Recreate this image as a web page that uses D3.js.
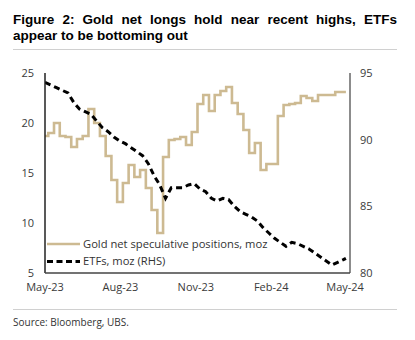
<!DOCTYPE html>
<html><head><meta charset="utf-8">
<script src="https://cdnjs.cloudflare.com/ajax/libs/d3/7.8.5/d3.min.js"></script>
<style>
body{margin:0;background:#fff;}
svg{display:block;font-family:"Open Sans","Noto Sans",sans-serif;}
</style></head>
<body>
<svg id="chart" width="415" height="340"></svg>
<script>
// ---- data ----
const titleLines = ["Figure 2: Gold net longs hold near recent highs, ETFs", "appear to be bottoming out"];
const sourceText = "Source: Bloomberg, UBS.";
const xTickDates = ["2023-05-01","2023-08-01","2023-11-01","2024-02-01","2024-05-01"];
const xTickLabels = ["May-23","Aug-23","Nov-23","Feb-24","May-24"];
const leftTicks = [5,10,15,20,25];
const rightTicks = [80,85,90,95];
const seriesNames = ["Gold net speculative positions, moz","ETFs, moz (RHS)"];

// weekly COT readings (Fridays from 2023-04-28), moz
const goldStart = "2023-04-28";
const goldEnd = "2024-05-02";
const goldValues = [18.7,19.0,20.0,18.7,18.6,17.6,18.4,18.7,21.4,20.0,
  18.7,16.7,14.3,12.1,14.0,15.8,14.6,15.3,13.5,11.3,
  9.0,16.6,18.3,18.4,18.6,17.8,19.1,21.9,22.8,21.2,
  22.8,23.2,23.6,22.0,20.9,19.3,17.0,18.0,15.3,15.9,
  15.9,20.7,21.8,21.9,22.0,22.7,22.5,22.2,22.8,22.8,
  22.8,23.1,23.1];
// ETF holdings, weekly from 2023-05-01, plus last reading 2024-05-02, moz
const etfStart = "2023-05-01";
const etfLastDate = "2024-05-02";
const etfValues = [94.3,94.1,93.9,93.7,93.5,92.8,92.3,92.1,91.9,91.4,
  90.9,90.6,90.2,89.9,89.7,89.4,89.1,88.8,88.2,87.3,
  86.6,85.6,86.4,86.4,86.4,86.6,86.7,86.3,86.1,85.6,
  85.4,85.6,85.5,85.0,84.6,84.4,84.2,83.9,83.4,83.0,
  82.6,82.3,82.0,82.3,82.2,82.0,81.8,81.5,81.2,80.9,
  80.6,80.8,81.0,81.1];

// ---- build ----
const parse = d3.utcParse("%Y-%m-%d");
const gold = goldValues.map((v,i)=>({date:d3.utcDay.offset(parse(goldStart),7*i), value:v}));
gold.push({date:parse(goldEnd), value:goldValues[goldValues.length-1]});
const etf = etfValues.map((v,i)=>({date: i<etfValues.length-1 ? d3.utcDay.offset(parse(etfStart),7*i) : parse(etfLastDate), value:v}));

const svg = d3.select("#chart");
const L=45, R=350, T=73, B=273;

const x = d3.scaleUtc().domain([parse("2023-05-01"), parse("2024-05-07")]).range([L,R]);
const yL = d3.scaleLinear().domain([5,25]).range([B,T]);
const yR = d3.scaleLinear().domain([80,95]).range([B,T]);

// title
const tg = svg.append("g").attr("font-family","'Liberation Sans',Arial,sans-serif")
  .attr("font-weight","bold").attr("font-size","13.5px").attr("fill","#000");
titleLines.forEach((t,i)=>{
  const el = tg.append("text").attr("x",13).attr("y",24+i*15.5).text(t);
  if(i===0){
    const w = el.node().getComputedTextLength();
    const gaps = t.split(" ").length-1;
    el.attr("word-spacing", ((397-13)-w)/gaps);
  }
});
svg.append("line").attr("x1",13).attr("x2",397).attr("y1",49.5).attr("y2",49.5).attr("stroke","#d0d0d0").attr("stroke-width",1);

// clip
svg.append("clipPath").attr("id","plot").append("rect").attr("x",L).attr("y",T-5).attr("width",R-L).attr("height",B-T+5);

// axes labels
const axisColor = "#3a3a3a";
svg.append("g").selectAll("text").data(leftTicks).join("text")
  .attr("x",34).attr("y",d=>yL(d)).attr("dy","0.35em").attr("text-anchor","end")
  .attr("font-size","11px").attr("fill",axisColor).text(d=>d);
svg.append("g").selectAll("text").data(rightTicks).join("text")
  .attr("x",360).attr("y",d=>yR(d)).attr("dy","0.35em").attr("text-anchor","start")
  .attr("font-size","11px").attr("fill",axisColor).text(d=>d);
svg.append("g").selectAll("text").data(xTickDates).join("text")
  .attr("x",d=>x(parse(d))).attr("y",291).attr("text-anchor","middle")
  .attr("font-size","11px").attr("fill",axisColor).text((d,i)=>xTickLabels[i]);

// lines
const gp = svg.append("g").attr("clip-path","url(#plot)");
gp.append("path").datum(gold)
  .attr("d", d3.line().x(d=>x(d.date)).y(d=>yL(d.value)).curve(d3.curveStepAfter))
  .attr("fill","none").attr("stroke","#CDBA92").attr("stroke-width",2.6).attr("stroke-linejoin","miter");
gp.append("path").datum(etf)
  .attr("d", d3.line().x(d=>x(d.date)).y(d=>yR(d.value)))
  .attr("fill","none").attr("stroke","#000").attr("stroke-width",3).attr("stroke-dasharray","6,4");

// axis lines
svg.append("line").attr("x1",L).attr("x2",L).attr("y1",T).attr("y2",B).attr("stroke","#222").attr("stroke-width",1.5);
svg.append("line").attr("x1",R).attr("x2",R).attr("y1",T).attr("y2",B).attr("stroke","#666").attr("stroke-width",1.5);
svg.append("line").attr("x1",L).attr("x2",R).attr("y1",B).attr("y2",B).attr("stroke","#444").attr("stroke-width",1.5);

// legend
const lg = svg.append("g");
lg.append("line").attr("x1",47).attr("x2",80).attr("y1",244).attr("y2",244).attr("stroke","#CDBA92").attr("stroke-width",2.6);
lg.append("text").attr("x",83).attr("y",247.5).attr("font-size","11.2px").attr("fill","#333").text(seriesNames[0]);
lg.append("line").attr("x1",47).attr("x2",80).attr("y1",261.5).attr("y2",261.5).attr("stroke","#000").attr("stroke-width",3).attr("stroke-dasharray","6,3.5");
lg.append("text").attr("x",83).attr("y",265).attr("font-size","11.2px").attr("fill","#333").text(seriesNames[1]);

// footer
svg.append("line").attr("x1",13).attr("x2",397).attr("y1",309.5).attr("y2",309.5).attr("stroke","#d0d0d0").attr("stroke-width",1);
svg.append("text").attr("x",13).attr("y",326).attr("font-size","10px").attr("fill","#333").text(sourceText);
</script>
</body></html>
